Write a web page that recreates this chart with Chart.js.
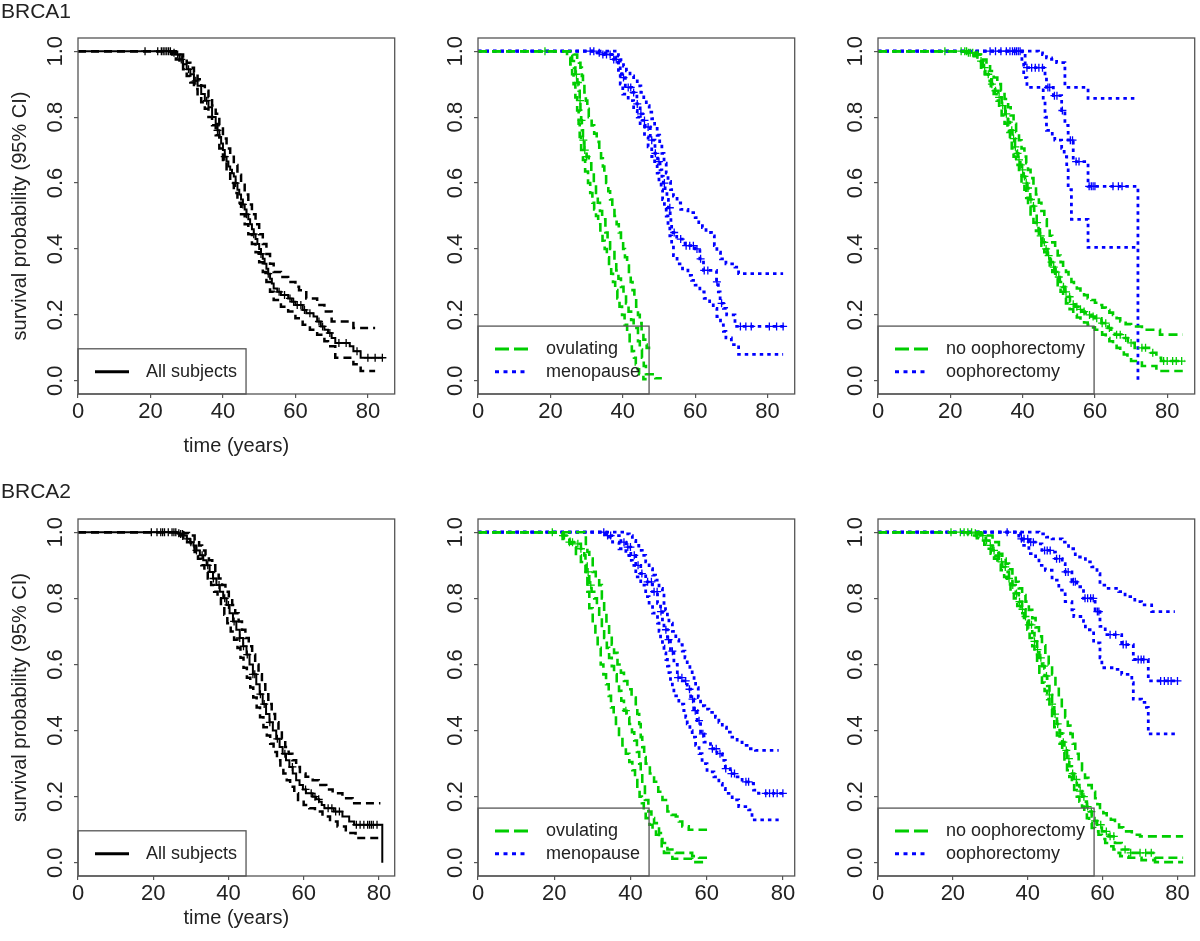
<!DOCTYPE html>
<html>
<head>
<meta charset="utf-8">
<script src="https://cdn.jsdelivr.net/npm/chart.js@4.4.1/dist/chart.umd.min.js"></script>
<style>
  body { margin: 0; background: #fff; }
  #wrap { position: relative; width: 1200px; height: 941px; }
  canvas { position: absolute; }
</style>
</head>
<body>
<div id="wrap">
  <canvas id="a1" width="400" height="470" style="left:0;top:0"></canvas>
  <canvas id="b1" width="400" height="470" style="left:400px;top:0"></canvas>
  <canvas id="c1" width="400" height="470" style="left:800px;top:0"></canvas>
  <canvas id="a2" width="400" height="471" style="left:0;top:470px"></canvas>
  <canvas id="b2" width="400" height="471" style="left:400px;top:470px"></canvas>
  <canvas id="c2" width="400" height="471" style="left:800px;top:470px"></canvas>
</div>
<script>
const FONT = "'Liberation Sans', Arial, sans-serif";

const xTicks = [0, 20, 40, 60, 80];
const yTicks = [0, 0.2, 0.4, 0.6, 0.8, 1.0];
const yTickLabels = ['0.0', '0.2', '0.4', '0.6', '0.8', '1.0'];

// ---- BRCA1, all subjects: [time, survival]
const b1AllEst = [[0,1],[26,.995],[27,.99],[28,.975],[29,.96],[30,.945],[31,.93],[32,.91],[33,.895],[34,.87],[35,.85],[36,.83],[37,.80],[38,.78],[38.5,.76],[39,.74],[39.5,.72],[40,.70],[40.5,.68],[41,.665],[41.5,.65],[42,.64],[42.5,.63],[43,.62],[43.5,.60],[44,.58],[44.5,.565],[45,.55],[45.5,.535],[46,.52],[46.5,.505],[47,.49],[47.5,.475],[48,.46],[48.5,.445],[49,.43],[49.5,.415],[50,.40],[50.5,.385],[51,.37],[51.5,.355],[52,.34],[52.5,.325],[53,.31],[53.5,.295],[54,.28],[55,.27],[56,.26],[58,.25],[59,.24],[60,.23],[62,.215],[63,.205],[65,.195],[66,.18],[67,.165],[68,.155],[69,.145],[70,.13],[71,.115],[75,.105],[76,.09],[78,.07],[84,.07]];
const b1AllHi = [[0,1],[27,1],[28,.99],[29,.98],[30,.965],[31,.95],[32,.935],[33,.915],[34,.895],[35,.88],[36,.86],[37,.835],[38,.81],[39,.775],[40,.735],[41,.705],[42,.68],[43,.655],[44,.625],[45,.595],[46,.565],[47,.535],[48,.505],[49,.475],[50,.445],[51,.415],[52,.385],[53,.355],[54,.33],[56,.315],[58,.30],[60,.285],[61,.275],[63,.25],[66,.23],[68,.21],[70,.18],[76,.16],[82,.16]];
const b1AllLo = [[0,1],[26,.99],[27,.975],[28,.96],[29,.945],[30,.925],[31,.905],[32,.885],[33,.865],[34,.845],[35,.825],[36,.80],[37,.775],[38,.745],[39,.705],[40,.665],[41,.63],[42,.60],[43,.57],[44,.54],[45,.505],[46,.475],[47,.445],[48,.415],[49,.39],[50,.36],[51,.33],[52,.30],[53,.27],[54,.245],[56,.225],[58,.21],[60,.19],[62,.17],[64,.155],[66,.14],[68,.12],[69,.105],[71,.07],[76,.05],[78,.03],[82,.03]];
const b1AllCens = [18.5,22,23,23.5,24,24.5,25,25.5,26.5,27.5,28.5,30.5,32.5,35.5,38.5,40.5,43.5,45.5,46.5,48.5,50.5,52.5,55.5,57,58.5,59.5,60.5,61.5,62.5,64,66.5,67.5,69.5,72,74,77,80,82,84];

// ---- BRCA1, ovulating / menopause
const b1OvuEst = [[0,1],[25.5,.985],[26,.97],[26.5,.95],[26.9,.93],[27.4,.905],[27.8,.88],[28.1,.85],[28.3,.82],[28.5,.79],[28.7,.76],[29,.73],[29.4,.70],[30,.68],[30.6,.66],[31.3,.63],[32,.60],[32.6,.57],[33.1,.54],[33.7,.515],[34.3,.49],[35.2,.45],[35.8,.425],[36.5,.40],[37.7,.36],[38.2,.335],[38.8,.31],[39.5,.285],[40.2,.26],[40.9,.235],[41.6,.21],[42.3,.185],[43,.16],[44.2,.12],[44.7,.095],[45.3,.07],[45.8,.045],[46.4,.02],[49,.008],[50.8,.008]];
const b1OvuHi = [[0,1],[26.4,.99],[27.4,.98],[27.9,.965],[28.3,.95],[28.7,.925],[29,.90],[29.4,.875],[29.8,.85],[30.2,.825],[30.6,.80],[31.4,.775],[32.1,.75],[32.8,.725],[33.5,.70],[34,.675],[34.5,.65],[34.9,.625],[35.4,.60],[36,.575],[36.5,.55],[37.1,.525],[37.7,.50],[38.3,.475],[38.9,.45],[39.5,.425],[40.1,.40],[40.6,.375],[41.2,.35],[41.7,.325],[42.2,.30],[42.7,.275],[43.2,.25],[43.7,.225],[44.2,.20],[44.7,.175],[45.2,.15],[45.7,.125],[46.2,.11],[46.6,.10],[47.6,.10]];
const b1OvuLo = [[0,1],[24.6,.98],[25.5,.96],[26,.93],[26.4,.90],[26.9,.86],[27.4,.82],[27.8,.78],[28.1,.74],[28.5,.70],[29,.67],[29.6,.635],[30.4,.60],[31,.57],[31.6,.54],[32.1,.52],[32.6,.50],[33.2,.475],[33.8,.45],[34.4,.425],[35,.40],[35.6,.375],[36.2,.35],[36.8,.325],[37.3,.30],[37.9,.275],[38.5,.25],[39.1,.225],[39.8,.20],[40.5,.17],[41.2,.145],[41.9,.115],[42.5,.09],[43.1,.07],[43.6,.05],[44.1,.035],[44.5,.02],[45.7,.005],[46.6,.005]];
const b1OvuCens = [18.5,27.2,27.6,28.2,28.6,29.1,29.5,30];
const b1MenEst = [[0,1],[32.4,.995],[34.3,.99],[37,.975],[38.8,.96],[39.3,.94],[39.8,.92],[40.7,.89],[42.5,.875],[43.9,.84],[44.8,.81],[45.5,.79],[46.2,.77],[47.6,.73],[48.9,.69],[49.6,.665],[50.3,.64],[50.8,.62],[51.2,.60],[51.7,.575],[52.2,.55],[52.6,.525],[53.1,.50],[53.3,.475],[53.5,.45],[54.9,.43],[57.2,.41],[60,.40],[61.3,.37],[62.3,.335],[65.9,.30],[66.4,.27],[66.9,.235],[67.8,.22],[68.7,.20],[71,.165],[84.8,.165]];
const b1MenHi = [[0,1],[38.8,.985],[39.5,.97],[40.2,.955],[41,.94],[42,.925],[43,.91],[44,.895],[45,.875],[45.8,.855],[46.5,.835],[47.3,.815],[48,.795],[48.8,.77],[49.5,.745],[50.2,.72],[50.8,.69],[51.4,.66],[52,.63],[52.5,.605],[53.2,.58],[54,.56],[55,.54],[56,.52],[58,.51],[60,.495],[61,.48],[62,.465],[63,.45],[64.5,.44],[65.3,.41],[66,.39],[67,.37],[68.5,.355],[71,.345],[72,.325],[84.3,.325]];
const b1MenLo = [[0,1],[33,.995],[36,.99],[38,.97],[38.8,.93],[39.3,.90],[40,.87],[41.5,.85],[43,.82],[44,.80],[44.8,.78],[46,.74],[47,.71],[48,.68],[48.8,.655],[49.5,.63],[50,.605],[50.6,.58],[51,.55],[51.5,.525],[52,.50],[52.5,.47],[53,.44],[53.5,.41],[54,.38],[55,.355],[56.5,.34],[58,.32],[59,.305],[60,.29],[61.3,.27],[62.5,.25],[64,.235],[65,.22],[66,.195],[67,.17],[67.8,.15],[68.5,.13],[70,.11],[72,.08],[84.3,.08]];
const b1MenCens = [31,32,33.5,34.5,35.5,36.5,37.5,38.2,40.2,41.5,42.2,43,44,45,46,47,48,49,50,51.5,53,54.2,56,57.5,58.5,59.5,60.5,61.5,62.5,63.5,66,67.3,72.5,74,75.5,80.5,82.5,84.3];

// ---- BRCA1, no oophorectomy / oophorectomy
const b1NoEst = [[0,1],[25,.995],[26.9,.99],[28.3,.97],[29,.95],[29.7,.93],[30.6,.915],[31.5,.90],[32.4,.88],[33.3,.86],[34.2,.835],[35.2,.81],[35.9,.785],[36.5,.76],[37.2,.735],[37.9,.71],[38.4,.69],[38.8,.67],[39.3,.655],[39.8,.64],[40.2,.62],[40.7,.60],[41.2,.585],[41.6,.57],[42.1,.55],[42.5,.53],[43.2,.505],[43.9,.48],[44.4,.46],[44.8,.44],[45.5,.42],[46.2,.40],[46.9,.38],[47.6,.36],[48.3,.345],[48.9,.33],[49.6,.315],[50.3,.30],[51,.285],[51.7,.27],[52.4,.255],[53.1,.24],[53.8,.232],[54.5,.225],[55.4,.217],[56.3,.21],[57.2,.205],[58.1,.20],[59,.195],[60,.19],[61.8,.175],[63.6,.16],[64.5,.15],[65.5,.14],[67.3,.13],[69.1,.115],[71,.10],[75.6,.085],[77,.07],[78.3,.06],[84.8,.06]];
const b1NoHi = [[0,1],[25.8,.995],[27.5,.99],[28.5,.975],[30,.96],[31,.94],[32,.92],[33,.90],[34,.88],[35,.855],[36,.83],[36.7,.805],[37.5,.78],[38.2,.755],[39,.73],[39.7,.705],[40.5,.68],[41,.66],[41.5,.64],[42.2,.615],[43,.59],[43.7,.565],[44.5,.54],[45.2,.515],[46,.49],[46.7,.465],[47.5,.44],[48.2,.42],[49,.40],[49.7,.38],[50.5,.36],[51.2,.345],[52,.33],[52.7,.315],[53.5,.30],[54.2,.29],[55,.28],[56,.27],[57,.26],[58,.25],[59,.245],[60,.237],[61,.23],[62,.222],[63,.215],[64,.207],[65,.20],[66,.19],[67,.18],[68.5,.172],[70,.165],[73,.155],[78,.14],[84.3,.14]];
const b1NoLo = [[0,1],[24.5,.995],[26.5,.985],[27.5,.97],[28.5,.95],[29.5,.93],[30.5,.91],[31.2,.89],[32,.87],[32.8,.85],[33.5,.83],[34.2,.805],[35,.78],[35.8,.755],[36.5,.73],[37,.705],[37.5,.68],[38.2,.655],[39,.63],[39.7,.605],[40.5,.58],[41,.555],[41.5,.53],[42.2,.505],[43,.48],[43.7,.455],[44.5,.43],[45.2,.41],[46,.39],[46.7,.37],[47.5,.35],[48.2,.33],[49,.31],[49.7,.29],[50.5,.27],[51.2,.252],[52,.235],[53,.217],[54,.20],[55,.192],[56,.185],[57,.177],[58,.17],[59,.162],[60,.155],[61,.147],[62,.14],[63,.13],[64,.12],[65,.11],[66,.10],[67,.09],[68,.08],[69,.07],[70,.06],[73,.045],[77,.03],[84.3,.03]];
const b1NoCens = [18.5,23,24,24.5,25,25.5,26.2,27.5,28.5,29.5,30.5,31.5,32.5,33.5,34.5,35.5,36.2,37,37.5,38,38.6,39,39.5,40,40.5,41,41.5,42.3,43,44,45,46,46.5,47.2,48,48.6,49.3,50,51.3,52,53,54,55,56,57,58.5,59.5,60.5,62,63,64,66,67,68.5,70,73,74,76,79,80,81.5,82.5,84];
const b1OoEst = [[0,1],[40.7,.95],[46.2,.92],[46.6,.89],[48.5,.865],[50.8,.82],[51.7,.775],[52.6,.73],[54,.665],[58.1,.59],[71.9,0]];
const b1OoHi = [[0,1],[44.4,.995],[45.5,.99],[46.6,.98],[48,.975],[49.4,.965],[51.7,.89],[58.1,.857],[71.9,.857]];
const b1OoLo = [[0,1],[39.8,.96],[40.3,.92],[41.2,.89],[45.7,.85],[46.2,.80],[46.6,.76],[48.2,.74],[48.9,.73],[50.8,.705],[51.5,.68],[52.2,.64],[52.6,.58],[53.5,.49],[58.1,.405],[71.9,.405]];
const b1OoCens = [31,32.5,34,35.5,36.5,37.2,37.8,38.3,38.8,39.3,41.2,42.5,43.5,44.5,45.5,47,47.5,48.8,49.5,51,53.2,53.8,54.8,55.6,58.4,59,59.5,60,65,66.5,67.5];

// ---- BRCA2, all subjects
const b2AllEst = [[0,1],[26.5,.997],[27.1,.995],[28,.99],[28.9,.98],[29.8,.97],[30.7,.96],[31.5,.945],[32.4,.93],[33.3,.915],[34.2,.90],[35,.88],[35.9,.86],[36.8,.84],[37.7,.82],[38.6,.80],[39.5,.78],[40.3,.755],[41.2,.73],[42.1,.705],[43,.68],[43.9,.655],[44.8,.63],[45.6,.60],[46.5,.57],[47.4,.54],[48.3,.51],[49.1,.48],[50,.45],[50.9,.425],[51.8,.40],[52.7,.375],[53.6,.35],[54.4,.33],[55.3,.31],[56.2,.29],[57.1,.27],[58,.25],[58.9,.235],[59.8,.222],[60.6,.21],[62.4,.20],[63.3,.192],[64.1,.185],[64.8,.175],[65.5,.165],[68,.155],[70.3,.14],[72.1,.125],[73.4,.115],[80.9,0]];
const b2AllHi = [[0,1],[28,.998],[29.5,.99],[31,.975],[32.2,.96],[33,.945],[33.9,.93],[34.8,.915],[35.7,.90],[36.5,.88],[37.4,.86],[38.3,.84],[39.2,.82],[40.1,.80],[41,.78],[41.8,.755],[42.7,.73],[43.6,.705],[44.5,.68],[45.4,.655],[46.3,.63],[47.1,.60],[48,.57],[48.9,.54],[49.8,.51],[50.6,.48],[51.5,.45],[52.4,.425],[53.3,.40],[54.2,.375],[55.1,.35],[56,.33],[57,.31],[58,.29],[59,.27],[60.5,.26],[62.4,.25],[64,.235],[66,.222],[67.7,.21],[70.3,.195],[73,.18],[80.4,.18]];
const b2AllLo = [[0,1],[26,.995],[27,.99],[28,.98],[29,.97],[30,.955],[31,.94],[31.9,.92],[32.8,.90],[33.6,.88],[34.5,.86],[35.4,.84],[36.2,.82],[37.1,.80],[38,.775],[38.9,.75],[39.7,.725],[40.6,.70],[41.5,.675],[42.4,.65],[43.2,.62],[44,.59],[44.9,.56],[45.8,.53],[46.6,.50],[47.5,.47],[48.4,.44],[49.3,.41],[50.2,.385],[51.1,.36],[52,.335],[52.9,.31],[53.8,.29],[54.6,.27],[55.5,.25],[56.4,.23],[57.5,.21],[58.5,.19],[60,.175],[61.5,.165],[63,.155],[65,.14],[67,.125],[69,.11],[71.2,.09],[73.8,.075],[80.4,.075]];
const b2AllCens = [19.5,21,22,22.5,23,24,25,25.5,26,26.8,27.3,27.8,29,30,31.5,33,34.5,36,37.5,39,40,41.5,43,44,45,46.5,47,48.5,49.5,51,53,55,57,60.5,62,63,64,66.5,67.5,68.5,69.5,74,75,76,77,77.5,78,78.5,79.5];

// ---- BRCA2, ovulating / menopause
const b2OvuEst = [[0,1],[22.2,.99],[24,.97],[25.7,.965],[27,.95],[27.9,.93],[28.2,.905],[28.5,.88],[29.2,.84],[29.8,.82],[30.5,.80],[31.2,.77],[31.8,.74],[32.5,.71],[33.1,.68],[33.8,.65],[34.4,.62],[35.1,.595],[35.7,.57],[36.4,.545],[37,.52],[37.6,.49],[38.3,.46],[39,.44],[39.7,.42],[40.4,.395],[41,.37],[41.7,.335],[42.3,.30],[42.7,.27],[43.1,.24],[43.8,.19],[44.7,.155],[45.5,.135],[46.2,.12],[47.5,.09],[48.4,.06],[49.7,.04],[51.9,.03],[56.2,.02],[58,.015],[60.1,.015]];
const b2OvuHi = [[0,1],[27.9,.99],[28.3,.96],[28.7,.94],[29.2,.92],[30.1,.88],[30.9,.86],[31.8,.84],[32.5,.80],[33.1,.76],[33.7,.72],[34.4,.69],[35.1,.66],[35.7,.635],[36.6,.60],[37.5,.575],[38.3,.55],[39.2,.525],[40.3,.50],[41.4,.48],[41.8,.45],[42.3,.42],[42.7,.38],[43.1,.35],[43.6,.32],[44,.30],[45.1,.27],[46.2,.245],[47.3,.215],[48.4,.19],[49.7,.155],[50.8,.145],[51.9,.14],[52.7,.125],[53.6,.11],[55.3,.10],[60.1,.10]];
const b2OvuLo = [[0,1],[22.2,.98],[24,.965],[24.8,.955],[25.7,.93],[27,.91],[28.2,.88],[28.7,.82],[29.2,.77],[30.1,.72],[30.8,.685],[31.4,.65],[32.2,.60],[32.9,.57],[33.6,.54],[34.3,.505],[34.9,.47],[35.6,.445],[36.2,.42],[37,.38],[37.9,.355],[38.8,.33],[39.7,.305],[40.5,.28],[41.2,.25],[41.8,.22],[42.4,.20],[43,.18],[43.5,.155],[44,.135],[45,.115],[45.8,.10],[46.7,.085],[47.5,.07],[48.2,.05],[48.8,.03],[51,.012],[56.2,.002],[59.7,.002]];
const b2OvuCens = [19.5,22.3,22.7,24,24.8,26.2,27,28.9,29.6,38.8];
const b2MenEst = [[0,1],[33.6,.99],[37.5,.97],[38.8,.955],[40.1,.93],[41.4,.90],[42.7,.875],[44,.85],[45.8,.82],[47.1,.785],[47.9,.76],[48.4,.73],[48.8,.705],[49.7,.675],[50.5,.64],[51.4,.60],[52.3,.56],[53.6,.55],[54.9,.525],[55.8,.495],[56.6,.46],[57.5,.43],[58.4,.39],[59.3,.365],[61,.345],[62.7,.33],[64.1,.31],[64.9,.285],[66.2,.27],[68,.26],[69.3,.245],[71.5,.24],[72.3,.22],[73.6,.21],[80.6,.21]];
const b2MenHi = [[0,1],[38.8,.995],[39.7,.99],[40.5,.975],[41.4,.96],[42.2,.945],[43.1,.93],[44,.91],[44.9,.89],[45.8,.87],[46.6,.855],[47.5,.83],[48.4,.81],[48.8,.785],[49.2,.765],[49.7,.745],[50.1,.725],[51,.70],[51.9,.675],[52.7,.66],[53.6,.64],[54.3,.62],[54.9,.60],[55.6,.585],[56.2,.57],[56.7,.55],[57.1,.53],[57.8,.50],[58.4,.475],[59.5,.465],[60.6,.455],[62.3,.44],[63.2,.425],[64.1,.41],[65.2,.395],[66.2,.38],[68,.365],[69.3,.355],[70.6,.345],[72.8,.34],[78.9,.34]];
const b2MenLo = [[0,1],[32.7,.995],[33.6,.985],[35.3,.97],[37,.95],[38.8,.93],[39.7,.915],[40.5,.90],[41.4,.865],[42.7,.84],[44,.805],[44.9,.78],[45.8,.755],[47.1,.725],[47.5,.70],[47.9,.675],[48.4,.655],[48.8,.635],[49.3,.615],[49.7,.595],[50.1,.575],[50.5,.555],[51,.53],[51.4,.505],[52.7,.48],[54,.46],[54.5,.44],[54.9,.42],[55.6,.40],[56.2,.38],[57.1,.355],[58,.33],[58.8,.30],[60.1,.275],[61.9,.26],[63.2,.24],[64.1,.225],[64.9,.21],[66.7,.19],[68.4,.17],[71,.16],[71.9,.13],[78.9,.13]];
const b2MenCens = [33,34,34.8,38.3,39.3,40,41,42,43,44.5,45.5,46.2,47,48,49.3,50,51,52.5,53.5,54.5,55.5,56.3,57,58,59,61.5,62.5,63.5,65,66.5,67.3,70.3,71,75.5,76.5,77.5,78.5,80];

// ---- BRCA2, no oophorectomy / oophorectomy
const b2NoEst = [[0,1],[25.2,.997],[26.5,.994],[27.5,.99],[28.2,.983],[28.8,.975],[29.7,.96],[30.6,.945],[31.5,.928],[32.3,.91],[33.2,.895],[34.1,.88],[35,.86],[35.9,.84],[36.8,.815],[37.6,.79],[38.5,.767],[39.4,.745],[40.3,.72],[41.2,.695],[41.8,.67],[42.5,.645],[43.1,.62],[43.8,.595],[44.5,.565],[45.2,.535],[45.8,.508],[46.5,.48],[47.1,.45],[47.8,.42],[48.5,.392],[49.2,.365],[49.8,.34],[50.5,.315],[51.1,.292],[51.8,.27],[52.4,.252],[53.1,.235],[53.8,.217],[54.5,.20],[55.1,.185],[55.8,.17],[56.4,.155],[57.1,.14],[57.8,.127],[58.5,.115],[59.8,.095],[61.6,.08],[63.3,.06],[65.1,.04],[66.9,.03],[74,.015],[81.5,.015]];
const b2NoHi = [[0,1],[27.5,.995],[28.8,.99],[30.6,.97],[32.3,.935],[33.2,.92],[34.1,.905],[35,.888],[35.9,.87],[36.8,.85],[37.6,.83],[38.5,.81],[39.4,.79],[40.3,.765],[41.2,.74],[42.1,.712],[43,.685],[43.8,.658],[44.7,.63],[45.6,.60],[46.5,.57],[47.4,.535],[48.3,.50],[49.1,.47],[50,.44],[50.7,.415],[51.4,.39],[52,.36],[52.7,.33],[53.6,.305],[54.5,.28],[55.3,.257],[56.2,.235],[57.1,.215],[58,.195],[58.6,.177],[59.3,.16],[60.2,.15],[61.1,.14],[62.2,.13],[63.3,.12],[64.4,.107],[65.5,.095],[67.8,.085],[70,.08],[81.5,.08]];
const b2NoLo = [[0,1],[24,.995],[25.2,.99],[26.4,.982],[27.5,.975],[28.4,.962],[29.2,.95],[30.1,.935],[31,.92],[31.9,.902],[32.8,.885],[33.7,.865],[34.5,.845],[35.4,.823],[36.3,.80],[37.2,.777],[38.1,.755],[39,.73],[39.9,.705],[40.5,.68],[41.2,.655],[41.8,.63],[42.5,.605],[43.1,.575],[43.8,.545],[44.5,.52],[45.2,.495],[45.8,.465],[46.5,.435],[47.1,.41],[47.8,.385],[48.5,.36],[49.2,.335],[49.8,.308],[50.5,.28],[51.1,.26],[51.8,.24],[52.4,.22],[53.1,.20],[53.8,.185],[54.5,.17],[55.1,.152],[55.8,.135],[56.4,.12],[57.1,.105],[58,.095],[58.9,.085],[59.8,.072],[60.7,.06],[61.8,.05],[62.9,.04],[63.8,.03],[64.7,.02],[66.9,.015],[70.4,.008],[74,.002],[81.5,.002]];
const b2NoCens = [19.5,22,23,24,25,26,27,28,29,30,31,32,33,34,35,36,37,37.8,38.6,39.4,40.3,41,41.8,42.6,43.5,44.3,45,45.8,46.5,47.3,48,48.8,49.5,50.3,51,52,53,54,55,56,57,58,59.5,61,62,63,66,67.5,70,71.5,73];
const b2OoEst = [[0,1],[38.1,.98],[40.3,.97],[42.5,.965],[43.8,.945],[46.5,.94],[47.4,.92],[49.2,.905],[50,.88],[51.8,.85],[53.1,.835],[54.9,.80],[58,.76],[59.3,.715],[60.7,.69],[65.1,.66],[68.2,.615],[72.2,.55],[80.2,.55]];
const b2OoHi = [[0,1],[43,.995],[45,.985],[46.5,.98],[49.2,.97],[50.9,.95],[52.7,.925],[55.4,.91],[57.1,.895],[58.5,.875],[59.3,.84],[61.1,.83],[64.3,.82],[66,.805],[68.6,.79],[70.4,.78],[73.1,.76],[79.3,.76]];
const b2OoLo = [[0,1],[37.6,.98],[38.5,.96],[40.3,.935],[42.1,.92],[43,.90],[44.7,.885],[46.5,.855],[48.3,.825],[50,.79],[51.8,.765],[52.3,.745],[54.9,.73],[55.4,.705],[57.6,.665],[59.3,.62],[59.8,.59],[62.5,.585],[65.1,.57],[67.8,.545],[68.2,.495],[70.4,.485],[71.7,.47],[72.2,.39],[79.3,.39]];
const b2OoCens = [34.5,38.3,39,40,40.8,41.5,44.5,45.2,46,47.7,48.5,50.1,50.8,52.2,52.7,55.3,56,56.8,57.5,58.6,59,62,63.5,65.5,66.3,69.5,70.3,71,75.5,76.5,77.5,78.3,80];

// ---- styles
const STY = {
  black: { color: '#000000', estW: 2, estDash: [], ciW: 2.5, ciDash: [8, 5], legDash: [] },
  green: { color: '#00cd00', estW: 2.6, estDash: [9, 5], ciW: 2.6, ciDash: [9, 5], legDash: [14, 5] },
  blue:  { color: '#0000ff', estW: 2.8, estDash: [3.5, 4], ciW: 2.8, ciDash: [3.5, 4], legDash: [4, 4.5] }
};

const panels = [
  { id: 'a1', row: 0, xMax: 87.4, first: true, title: 'BRCA1', groups: [
    { sty: 'black', label: 'All subjects', est: b1AllEst, lo: b1AllLo, hi: b1AllHi, cens: b1AllCens } ] },
  { id: 'b1', row: 0, xMax: 87.5, groups: [
    { sty: 'green', label: 'ovulating', est: b1OvuEst, lo: b1OvuLo, hi: b1OvuHi, cens: b1OvuCens },
    { sty: 'blue', label: 'menopause', est: b1MenEst, lo: b1MenLo, hi: b1MenHi, cens: b1MenCens } ] },
  { id: 'c1', row: 0, xMax: 87.6, groups: [
    { sty: 'green', label: 'no oophorectomy', est: b1NoEst, lo: b1NoLo, hi: b1NoHi, cens: b1NoCens },
    { sty: 'blue', label: 'oophorectomy', est: b1OoEst, lo: b1OoLo, hi: b1OoHi, cens: b1OoCens } ] },
  { id: 'a2', row: 1, xMax: 84.2, first: true, title: 'BRCA2', groups: [
    { sty: 'black', label: 'All subjects', est: b2AllEst, lo: b2AllLo, hi: b2AllHi, cens: b2AllCens } ] },
  { id: 'b2', row: 1, xMax: 83.1, groups: [
    { sty: 'green', label: 'ovulating', est: b2OvuEst, lo: b2OvuLo, hi: b2OvuHi, cens: b2OvuCens },
    { sty: 'blue', label: 'menopause', est: b2MenEst, lo: b2MenLo, hi: b2MenHi, cens: b2MenCens } ] },
  { id: 'c2', row: 1, xMax: 84.6, groups: [
    { sty: 'green', label: 'no oophorectomy', est: b2NoEst, lo: b2NoLo, hi: b2NoHi, cens: b2NoCens },
    { sty: 'blue', label: 'oophorectomy', est: b2OoEst, lo: b2OoLo, hi: b2OoHi, cens: b2OoCens } ] }
];

function toPts(arr) {
  return arr.map(p => ({ x: p[0], y: p[1] }));
}

// survival value of the step curve at time t
function stepAt(arr, t) {
  let v = arr[0][1];
  for (const p of arr) { if (p[0] <= t) v = p[1]; }
  return v;
}

const panelDecor = {
  id: 'panelDecor',
  afterDraw(chart, args, opts) {
    const ctx = chart.ctx;
    const a = chart.chartArea;
    const ys = chart.scales.y;
    ctx.save();

    // plot frame
    ctx.setLineDash([]);
    ctx.strokeStyle = '#555';
    ctx.lineWidth = 1.3;
    ctx.strokeRect(a.left, a.top, a.right - a.left, a.bottom - a.top);

    // rotated y tick labels (R style, las = 0)
    ctx.fillStyle = '#222';
    ctx.font = '22px ' + FONT;
    ctx.textAlign = 'center';
    ctx.textBaseline = 'alphabetic';
    yTicks.forEach((v, i) => {
      ctx.save();
      ctx.translate(62, ys.getPixelForValue(v));
      ctx.rotate(-Math.PI / 2);
      ctx.fillText(yTickLabels[i], 0, 0);
      ctx.restore();
    });

    // legend box in the bottom left corner
    const items = opts.items;
    ctx.font = '18px ' + FONT;
    const textW = Math.max(...items.map(it => ctx.measureText(it.label).width));
    const h = 22.5 + items.length * 22.7;
    const w = 68 + textW + 9;
    const top = a.bottom - h;
    ctx.strokeStyle = '#555';
    ctx.lineWidth = 1.3;
    ctx.strokeRect(a.left, top, w, h);
    items.forEach((it, i) => {
      const y = top + 23 + i * 22.7;
      ctx.beginPath();
      ctx.setLineDash(it.dash);
      ctx.strokeStyle = it.color;
      ctx.lineWidth = 3;
      ctx.moveTo(a.left + 17, y);
      ctx.lineTo(a.left + 51, y);
      ctx.stroke();
      ctx.setLineDash([]);
      ctx.fillStyle = '#222';
      ctx.textAlign = 'left';
      ctx.textBaseline = 'middle';
      ctx.fillText(it.label, a.left + 68, y);
    });

    if (opts.title) {
      ctx.fillStyle = '#222';
      ctx.font = '21px ' + FONT;
      ctx.textAlign = 'left';
      ctx.textBaseline = 'alphabetic';
      ctx.fillText(opts.title, 1, opts.titleY);
    }
    ctx.restore();
  }
};

panels.forEach(p => {
  const datasets = [];
  // censor marks first so they end up on top
  p.groups.forEach(g => {
    const s = STY[g.sty];
    datasets.push({
      data: g.cens.map(t => ({ x: t, y: stepAt(g.est, t) })),
      showLine: false,
      pointStyle: 'cross',
      pointRadius: 4,
      pointBorderWidth: 1.3,
      pointBorderColor: s.color,
      borderColor: s.color
    });
  });
  p.groups.forEach(g => {
    const s = STY[g.sty];
    const line = (arr, w, dash) => ({
      data: toPts(arr),
      stepped: true,
      borderColor: s.color,
      borderWidth: w,
      borderDash: dash,
      borderCapStyle: 'butt',
      pointRadius: 0,
      fill: false
    });
    datasets.push(line(g.est, s.estW, s.estDash));
    datasets.push(line(g.hi, s.ciW, s.ciDash));
    datasets.push(line(g.lo, s.ciW, s.ciDash));
  });

  const gridOpts = { drawOnChartArea: false, drawTicks: true, tickLength: 4, color: '#555', lineWidth: 1.2 };
  const bottomH = p.row === 0 ? 76 : 65;

  new Chart(document.getElementById(p.id), {
    type: 'line',
    data: { datasets: datasets },
    options: {
      responsive: false,
      animation: false,
      devicePixelRatio: 1,
      layout: { padding: { top: p.row === 0 ? 38 : 49, right: 4, left: 0, bottom: 0 } },
      plugins: {
        legend: { display: false },
        tooltip: { enabled: false },
        panelDecor: {
          items: p.groups.map(g => ({ label: g.label, color: STY[g.sty].color, dash: STY[g.sty].legDash })),
          title: p.title,
          titleY: p.row === 0 ? 17.5 : 27.5
        }
      },
      scales: {
        x: {
          type: 'linear',
          min: 0,
          max: p.xMax,
          afterBuildTicks: sc => { sc.ticks = xTicks.map(v => ({ value: v })); },
          afterFit: sc => { sc.height = bottomH; },
          grid: gridOpts,
          border: { display: false },
          ticks: { color: '#222', font: { family: FONT, size: 22 }, padding: 1, maxRotation: 0, autoSkip: false },
          title: {
            display: !!p.first,
            text: 'time (years)',
            color: '#222',
            font: { family: FONT, size: 20 },
            padding: { top: 0, bottom: p.row === 0 ? 12 : 11 }
          }
        },
        y: {
          type: 'linear',
          min: -0.04,
          max: 1.04,
          afterBuildTicks: sc => { sc.ticks = yTicks.map(v => ({ value: v })); },
          afterFit: sc => { sc.width = 78; },
          grid: gridOpts,
          border: { display: false },
          ticks: { display: false },
          title: {
            display: !!p.first,
            text: 'survival probability (95% CI)',
            color: '#222',
            font: { family: FONT, size: 20 },
            padding: { top: 8, bottom: 0 }
          }
        }
      }
    },
    plugins: [panelDecor]
  });
});
</script>
</body>
</html>
